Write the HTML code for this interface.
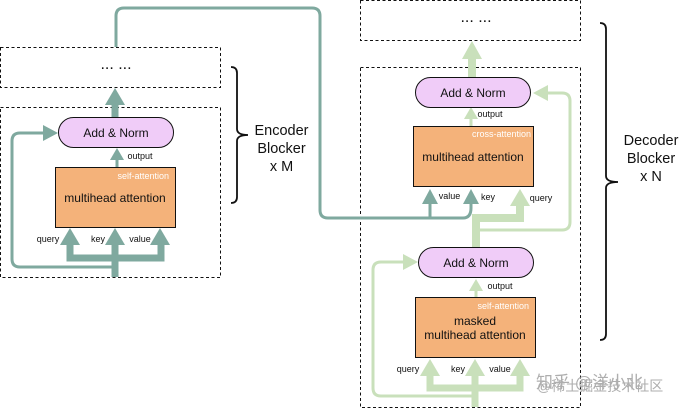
<!DOCTYPE html>
<html><head><meta charset="utf-8"><style>
html,body{margin:0;padding:0;background:#fff;width:679px;height:408px;overflow:hidden}
svg{display:block;filter:blur(0.35px)}
text{font-family:"Liberation Sans",Arial,sans-serif;fill:#111}
.cjk{font-family:"Liberation Sans","Noto Sans CJK SC",sans-serif;fill:#9a9a9a}
</style></head><body>
<svg width="679" height="408" viewBox="0 0 679 408" xmlns="http://www.w3.org/2000/svg">
<rect width="679" height="408" fill="#fff"/>
<g fill="none" stroke="#111" stroke-width="1" stroke-dasharray="3 2.5">
<rect x="0.5" y="47.5" width="220" height="40"/>
<rect x="0.5" y="107.5" width="220" height="170"/>
<rect x="360.5" y="0.5" width="220" height="40"/>
<rect x="360.5" y="67.5" width="220" height="340"/>
</g>
<g font-size="16" text-anchor="middle"><text x="116" y="69">... ...</text><text x="476" y="22">... ...</text></g>

<!-- encoder connectors -->
<g fill="none" stroke="#7fa99f">
<path d="M116 47V16Q116 8 124 8H312Q320 8 320 16V210Q320 218 328 218H463Q471 218 471 208V200" stroke-width="3"/>
<path d="M430 218V200" stroke-width="3"/>
<path d="M115 277V267H20Q12 267 12 259V141Q12 133 20 133H48" stroke-width="3"/>
<path d="M70 238V258H161V238" stroke-width="7"/>
<path d="M115 277V238" stroke-width="7"/>
<path d="M115 117V100" stroke-width="7"/>
<path d="M117 167V155" stroke-width="3"/>
</g>
<g fill="#7fa99f">
<path d="M115 88L125 105H105Z"/>
<path d="M58 133L43 125V141Z"/>
<path d="M117 148L124 160H110Z"/>
<path d="M70 228L80 245H60Z"/>
<path d="M115 228L125 245H105Z"/>
<path d="M160 228L170 245H150Z"/>
<path d="M430 189L438 204H422Z"/>
<path d="M471 189L479 204H463Z"/>
</g>

<!-- decoder connectors -->
<g fill="none" stroke="#c9e0bb">
<path d="M476 230H562Q570 230 570 222V101Q570 93 562 93H545" stroke-width="3"/>
<path d="M476 247V218H520V200" stroke-width="8"/>
<path d="M472 77V55" stroke-width="8"/>
<path d="M471 126V116" stroke-width="3"/>
<path d="M476 297V288" stroke-width="3"/>
<path d="M475 396H381Q373 396 373 388V270Q373 262 381 262H410" stroke-width="3"/>
<path d="M430 368V388H520V368" stroke-width="7"/>
<path d="M475 407V368" stroke-width="7"/>
</g>
<g fill="#c9e0bb">
<path d="M472 41L482 59H462Z"/>
<path d="M533 93L548 85V101Z"/>
<path d="M471 107L478 119H464Z"/>
<path d="M520 189L530 206H510Z"/>
<path d="M418 262L403 254V270Z"/>
<path d="M476 279L483 291H469Z"/>
<path d="M430 359L440 376H420Z"/>
<path d="M475 359L485 376H465Z"/>
<path d="M520 359L530 376H510Z"/>
</g>

<!-- nodes -->
<g stroke="#111" stroke-width="1">
<rect x="58.5" y="117.5" width="115" height="30" rx="15" fill="#f0ccf8"/>
<rect x="415.5" y="77.5" width="115" height="30" rx="15" fill="#f0ccf8"/>
<rect x="418.5" y="247.5" width="115" height="30" rx="15" fill="#f0ccf8"/>
<rect x="55.5" y="167.5" width="120" height="60" fill="#f4b27a"/>
<rect x="413.5" y="126.5" width="120" height="60" fill="#f4b27a"/>
<rect x="415.5" y="297.5" width="120" height="60" fill="#f4b27a"/>
</g>
<g font-size="12" text-anchor="middle">
<text x="116" y="137">Add &amp; Norm</text>
<text x="473" y="97">Add &amp; Norm</text>
<text x="476" y="267">Add &amp; Norm</text>
<text x="115" y="202">multihead attention</text>
<text x="473" y="161">multihead attention</text>
<text x="475" y="325">masked</text>
<text x="475" y="339">multihead attention</text>
</g>
<g font-size="9" text-anchor="end">
<text x="169" y="179" style="fill:#fff">self-attention</text>
<text x="531" y="137" style="fill:#fff">cross-attention</text>
<text x="529" y="309" style="fill:#fff">self-attention</text>
</g>
<g font-size="9" text-anchor="middle">
<text x="140" y="159">output</text>
<text x="48" y="242">query</text>
<text x="98" y="242">key</text>
<text x="140" y="242">value</text>
<text x="490" y="117">output</text>
<text x="449.5" y="199">value</text>
<text x="488" y="200">key</text>
<text x="541" y="201">query</text>
<text x="500" y="289">output</text>
<text x="408" y="372">query</text>
<text x="458" y="372">key</text>
<text x="500" y="372">value</text>
</g>

<!-- braces -->
<g fill="none" stroke="#111" stroke-width="1.8">
<path d="M231 67Q237 67 237 73V129Q237 135 248 135Q237 135 237 141V197Q237 203 231 203"/>
<path d="M600 23Q606 23 606 29V176Q606 182 618 182Q606 182 606 188V334Q606 340 600 340"/>
</g>
<g font-size="14.5" text-anchor="middle">
<text x="281.5" y="135">Encoder</text>
<text x="281.5" y="153">Blocker</text>
<text x="281.5" y="171">x M</text>
<text x="651" y="145">Decoder</text>
<text x="651" y="163">Blocker</text>
<text x="651" y="181">x N</text>
</g>

<!-- watermark -->
<g opacity="0.8">
<text class="cjk" x="536" y="388" font-size="17">知乎 @洋小北</text>
<text class="cjk" x="537" y="391" font-size="14">@稀土掘金技术社区</text>
</g>
</svg>
</body></html>
